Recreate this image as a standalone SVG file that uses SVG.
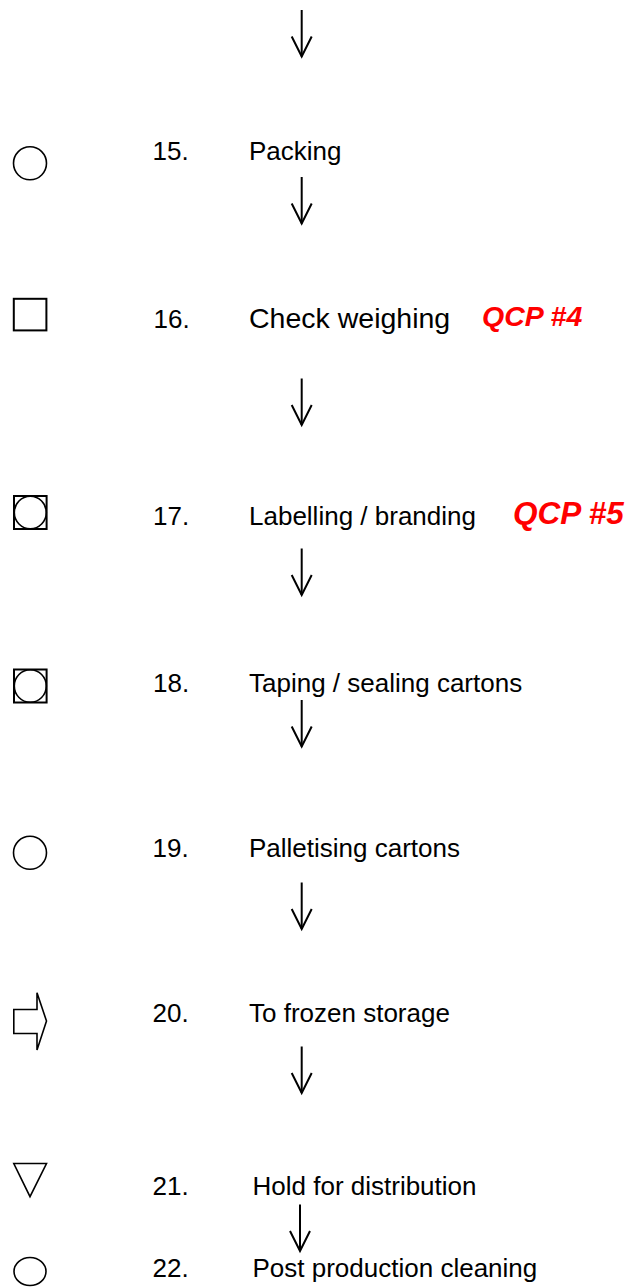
<svg xmlns="http://www.w3.org/2000/svg" width="629" height="1287" viewBox="0 0 629 1287">
  <style>
    .sym { fill: none; stroke: #000; stroke-width: 1.6; }
    .box { fill: none; stroke: #000; stroke-width: 2; }
    .num { font-family: "Liberation Sans", Arial, sans-serif; font-size: 26px; fill: #000; }
    .lbl { font-family: "Liberation Sans", Arial, sans-serif; font-size: 26px; fill: #000; }
    .lbl.big { font-size: 28.5px; }
    .qcp { font-family: "Liberation Sans", Arial, sans-serif; font-weight: bold; font-style: italic; fill: #ff0000; }
    .flow { fill: none; stroke: #000; stroke-width: 2; stroke-linecap: butt; }
  </style>
  <defs>
    <!-- open down-arrow used between steps -->
    <g id="down">
      <line x1="0" y1="0" x2="0" y2="46.5" class="flow"/>
      <polyline points="-10,26.5 0,46.5 10,26.5" class="flow" stroke-linejoin="miter"/>
    </g>
  </defs>
  <rect width="629" height="1287" fill="#fff"/>

  <g id="connectors">
    <use href="#down" x="301.7" y="10"/>
    <use href="#down" x="301.7" y="177"/>
    <use href="#down" x="301.7" y="378.5"/>
    <use href="#down" x="301.7" y="548.5"/>
    <use href="#down" x="301.7" y="700"/>
    <use href="#down" x="301.7" y="882.5"/>
    <use href="#down" x="301.7" y="1046.5"/>
    <use href="#down" x="300" y="1204.5"/>
  </g>

  <g id="step15">
    <circle cx="30" cy="163.3" r="16.5" class="sym"/>
    <text x="152.5" y="159.5" class="num">15.</text>
    <text x="249" y="159.5" class="lbl">Packing</text>
  </g>

  <g id="step16">
    <rect x="13.8" y="298.8" width="32.6" height="31.6" class="box"/>
    <text x="153.5" y="328" class="num">16.</text>
    <text x="249" y="328" class="lbl big">Check weighing</text>
    <text x="482" y="325.5" class="qcp" font-size="28.5">QCP #4</text>
  </g>

  <g id="step17">
    <rect x="14" y="496" width="32.6" height="33" class="box"/>
    <ellipse cx="30.3" cy="512.5" rx="16" ry="16.3" class="sym"/>
    <text x="153" y="525" class="num">17.</text>
    <text x="249" y="525" class="lbl">Labelling / branding</text>
    <text x="513" y="523.5" class="qcp" font-size="31.5">QCP #5</text>
  </g>

  <g id="step18">
    <rect x="14" y="669.5" width="32.6" height="33" class="box"/>
    <ellipse cx="30.3" cy="686" rx="16" ry="16.3" class="sym"/>
    <text x="153" y="691.5" class="num">18.</text>
    <text x="249" y="691.5" class="lbl">Taping / sealing cartons</text>
  </g>

  <g id="step19">
    <circle cx="30" cy="852.8" r="16.5" class="sym"/>
    <text x="152.5" y="856.5" class="num">19.</text>
    <text x="249" y="856.5" class="lbl">Palletising cartons</text>
  </g>

  <g id="step20">
    <polygon points="13.8,1009.5 37,1009.5 37,992.8 46.5,1021 37,1050 37,1033.5 13.8,1033.5" class="sym"/>
    <text x="152.5" y="1021.5" class="num">20.</text>
    <text x="249" y="1021.5" class="lbl">To frozen storage</text>
  </g>

  <g id="step21">
    <polygon points="13.8,1163.5 46.5,1163.5 30,1196.7" class="sym"/>
    <text x="152.5" y="1195" class="num">21.</text>
    <text x="252.5" y="1195" class="lbl">Hold for distribution</text>
  </g>

  <g id="step22">
    <ellipse cx="30" cy="1271.5" rx="16" ry="14" class="sym"/>
    <text x="152.5" y="1276.5" class="num">22.</text>
    <text x="252.5" y="1276.5" class="lbl">Post production cleaning</text>
  </g>
</svg>
